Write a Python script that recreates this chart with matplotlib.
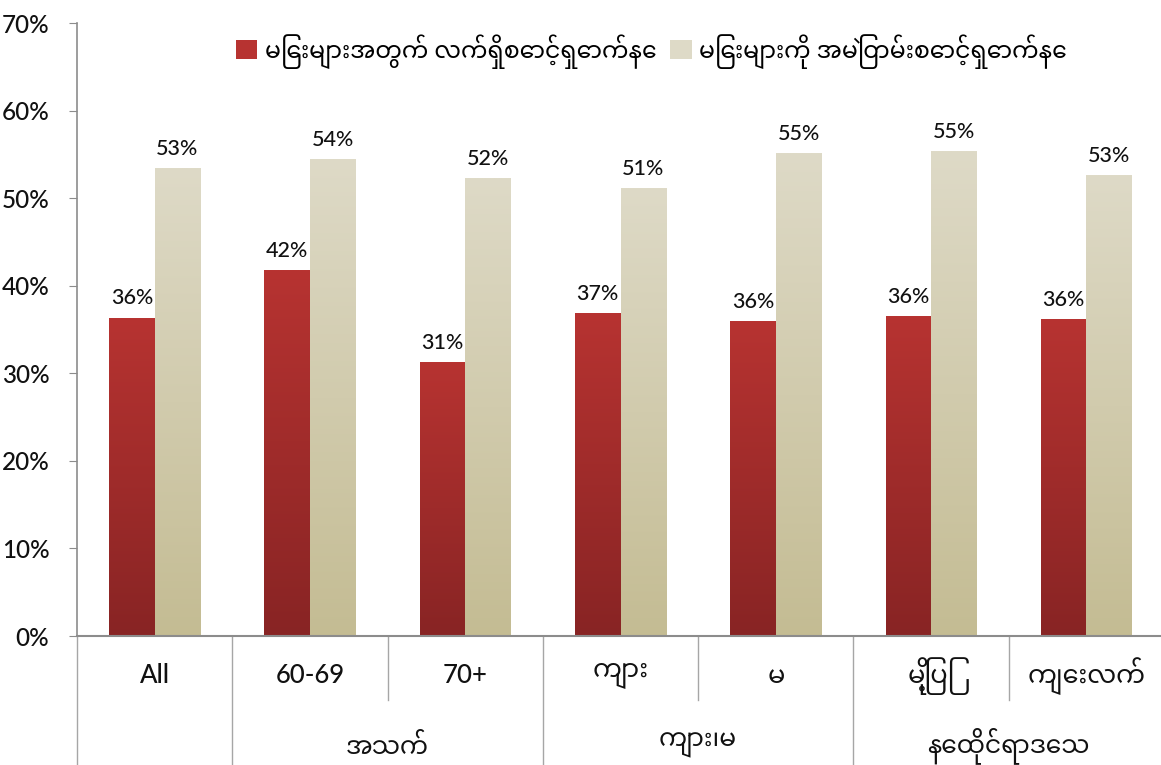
import numpy as np
import matplotlib
matplotlib.use("Agg")
import matplotlib.pyplot as plt
from matplotlib.colors import LinearSegmentedColormap
from matplotlib.patches import Patch
from matplotlib.ticker import PercentFormatter


# Chart data
categories = ["All", "60-69", "70+", "ကျား", "မ", "မြို့ပြ", "ကျေးလက်"]
groups = ["အသက်", "ကျား၊မ", "နေထိုင်ရာဒေသ"]
group_spans = [(1, 2), (3, 4), (5, 6)]
series_names = ["မြေးများအတွက် လက်ရှိစောင့်ရှောက်နေ", "မြေးများကို အမြဲတမ်းစောင့်ရှောက်နေ"]
caring_now = [36.3, 41.7, 31.2, 36.8, 35.9, 36.5, 36.1]
caring_always = [53.4, 54.4, 52.2, 51.1, 55.1, 55.3, 52.6]
yticks = [0, 10, 20, 30, 40, 50, 60, 70]

RED_TOP, RED_BOTTOM = "#b73331", "#882424"
TAN_TOP, TAN_BOTTOM = "#dedac7", "#c4bc93"
LINE = "#8c8c8c"
FONTS = ["Lato", "Noto Sans Myanmar", "Padauk", "Myanmar Text", "Noto Sans", "DejaVu Sans"]

plt.rcParams["font.family"] = FONTS
plt.rcParams["font.weight"] = "medium"


# Paint a vertical gradient over each bar of a bar container
def gradient_bars(ax, bars, top, bottom):
  cmap = LinearSegmentedColormap.from_list("g", [bottom, top])
  grad = np.linspace(0, 1, 256).reshape(-1, 1)
  for bar in bars:
    x, w, h = bar.get_x(), bar.get_width(), bar.get_height()
    ax.imshow(grad, extent=[x, x + w, 0, h], origin="lower", aspect="auto",
              cmap=cmap, zorder=2)
    bar.set_facecolor("none")


fig = plt.figure(figsize=(11.61, 7.65), dpi=100)
ax = fig.add_axes([77 / 1161, 1 - 636 / 765, 1087 / 1161, 613 / 765])

x = np.arange(len(categories))
width = 0.293
bars_now = ax.bar(x - width / 2, caring_now, width, color=RED_BOTTOM, zorder=2)
bars_always = ax.bar(x + width / 2, caring_always, width, color=TAN_BOTTOM, zorder=2)
gradient_bars(ax, bars_now, RED_TOP, RED_BOTTOM)
gradient_bars(ax, bars_always, TAN_TOP, TAN_BOTTOM)

for bars, vals in [(bars_now, caring_now), (bars_always, caring_always)]:
  for bar, v in zip(bars, vals):
    ax.annotate(f"{v:.0f}%", (bar.get_x() + bar.get_width() / 2, bar.get_height()),
                xytext=(0, 7), textcoords="offset points", ha="center", va="bottom",
                fontsize=15.5, color="#111111")

ax.set_xlim(-0.5, len(categories) - 0.5)
ax.set_ylim(0, 70)
ax.set_yticks(yticks)
ax.yaxis.set_major_formatter(PercentFormatter(decimals=0))
ax.tick_params(axis="y", length=6, color=LINE, labelsize=17.5, pad=14, labelcolor="#111111")
ax.set_xticks([])
for side in ["top", "right"]:
  ax.spines[side].set_visible(False)
ax.spines["left"].set_color(LINE)
ax.spines["bottom"].set_color(LINE)
ax.spines["bottom"].set_linewidth(1.5)
ax.spines["left"].set_linewidth(1.2)

# Two level category axis drawn below the plot
trans = ax.get_xaxis_transform()
for i, cat in enumerate(categories):
  ax.text(i, -0.065, cat, transform=trans, ha="center", va="center", fontsize=18.5,
          color="#111111")
for i in range(1, len(categories)):
  outer = any(i == a for a, b in group_spans)
  bottom = -0.22 if outer else -0.105
  ax.plot([i - 0.5, i - 0.5], [0, bottom], transform=trans, color="#a6a6a6",
          lw=1, clip_on=False)
ax.plot([-0.5, -0.5], [0, -0.22], transform=trans, color="#a6a6a6", lw=1, clip_on=False)
for name, (a, b) in zip(groups, group_spans):
  ax.text((a + b) / 2, -0.178, name, transform=trans, ha="center", va="center",
          fontsize=18, color="#111111")

handles = [Patch(facecolor=RED_TOP), Patch(facecolor=TAN_TOP)]
fig.legend(handles, series_names, loc="center", bbox_to_anchor=(0.561, 0.933), ncol=2,
           frameon=False, fontsize=17, handlelength=0.9, handleheight=0.9,
           handletextpad=0.3, columnspacing=0.6)

fig.savefig("out.png", dpi=100)
